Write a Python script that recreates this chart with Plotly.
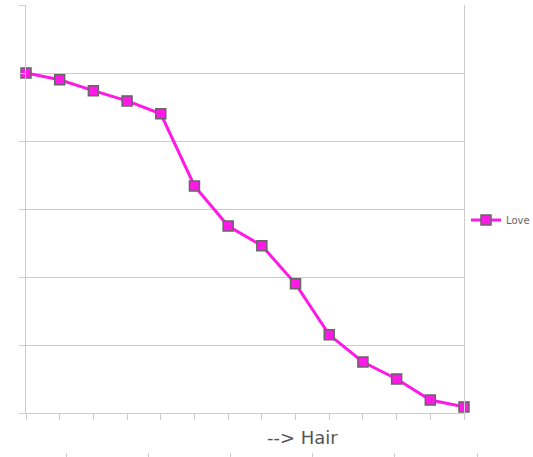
import plotly.graph_objects as go

categories = list(range(14))
love = [50, 49, 47.4, 45.9, 44, 33.4, 27.5, 24.6, 19, 11.5, 7.5, 5, 1.9, 0.9]
y_ticks = [0, 10, 20, 30, 40, 50, 60]

W, H = 533, 457
L, R, T, B = 26, 464, 5, 413

fig = go.Figure()
fig.add_trace(go.Scatter(
    x=categories, y=love, name="Love", mode="lines+markers",
    line=dict(color="#ff19e6", width=3),
    marker=dict(symbol="square", size=10, color="#ff19e6",
                line=dict(color="#666666", width=1.5)),
    cliponaxis=False,
    xaxis="x", yaxis="y",
))
# invisible helper trace so the decorative lower tick axis is drawn
fig.add_trace(go.Scatter(x=[0], y=[0], xaxis="x2", yaxis="y2", mode="markers",
                         marker=dict(opacity=0), showlegend=False, hoverinfo="skip"))

fig.update_layout(
    width=W, height=H, showlegend=True,
    margin=dict(l=0, r=0, t=0, b=0, autoexpand=False),
    paper_bgcolor="white", plot_bgcolor="rgba(0,0,0,0)",
    font=dict(family="DejaVu Sans", color="#555555"),
    xaxis=dict(
        domain=[L / W, R / W], range=[0, 13], showgrid=False, zeroline=False,
        showline=True, linecolor="#cccccc", linewidth=1,
        ticks="outside", ticklen=6, tickcolor="#cccccc", tickvals=categories,
        showticklabels=False, anchor="y",
    ),
    yaxis=dict(
        domain=[(H - B) / H, (H - T) / H], range=[0, 60], tickvals=y_ticks,
        showgrid=True, gridcolor="#cccccc", zeroline=False,
        showline=True, linecolor="#cccccc", mirror=True,
        ticks="outside", ticklen=6, tickcolor="#cccccc", showticklabels=False,
        anchor="x",
    ),
    xaxis2=dict(
        domain=[0, 1], range=[0, W], anchor="free",
        position=(H - 452) / H, showgrid=False, zeroline=False, showline=False,
        ticks="outside", ticklen=5, tickcolor="#cccccc", tick0=66, dtick=82.2,
        showticklabels=False,
    ),
    yaxis2=dict(domain=[(H - 452) / H, 1], anchor="x2", visible=False, range=[0, 1]),
    legend=dict(x=466 / W, y=(H - 220) / H, yanchor="middle", xanchor="left",
                font=dict(size=10, color="#666666"), itemwidth=30,
                bgcolor="rgba(0,0,0,0)"),
    annotations=[dict(text="--> Hair", x=302 / W, y=(H - 437) / H,
                      xref="paper", yref="paper", showarrow=False,
                      xanchor="center", yanchor="middle",
                      font=dict(size=18, color="#555555", family="DejaVu Sans"))],
)

fig.write_html("out.html", config={"displayModeBar": False},
               post_script="document.body.style.margin='0px';")
